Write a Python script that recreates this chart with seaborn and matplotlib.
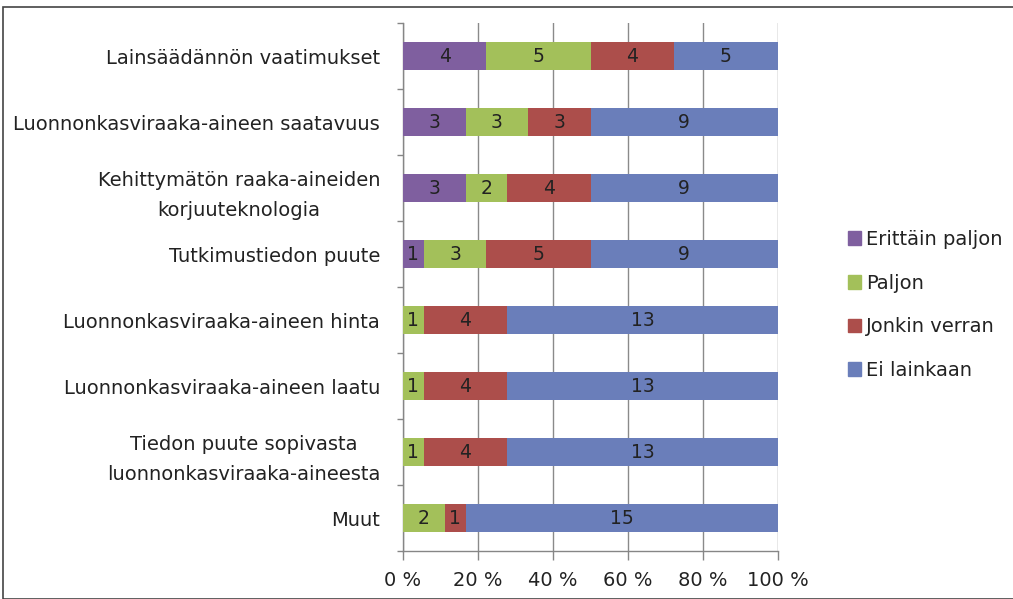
import matplotlib.pyplot as plt
import matplotlib.patches as mpatches
import seaborn as sns
import pandas as pd
import numpy as np

# data (counts of answers)
categories = [
    'Lainsäädännön vaatimukset',
    'Luonnonkasviraaka-aineen saatavuus',
    'Kehittymätön raaka-aineiden\nkorjuuteknologia',
    'Tutkimustiedon puute',
    'Luonnonkasviraaka-aineen hinta',
    'Luonnonkasviraaka-aineen laatu',
    'Tiedon puute sopivasta\nluonnonkasviraaka-aineesta',
    'Muut',
]
series_names = ['Erittäin paljon', 'Paljon', 'Jonkin verran', 'Ei lainkaan']
erittain_paljon = [4, 3, 3, 1, 0, 0, 0, 0]
paljon = [5, 3, 2, 3, 1, 1, 1, 2]
jonkin_verran = [4, 3, 4, 5, 4, 4, 4, 1]
ei_lainkaan = [5, 9, 9, 9, 13, 13, 13, 15]
x_ticks = [0, 20, 40, 60, 80, 100]

colors = ['#7F5F9F', '#A3C05A', '#AC4E4B', '#6A7EBA']

counts = np.array([erittain_paljon, paljon, jonkin_verran, ei_lainkaan], dtype=float)
pct = counts / counts.sum(axis=0) * 100
cum = np.cumsum(pct, axis=0)

df = pd.DataFrame({'Kategoria': categories})
for i, name in enumerate(series_names):
    df[name] = cum[i]

fig = plt.figure(figsize=(10.13, 5.99), dpi=100)
ax = fig.add_axes([403 / 1013, 1 - 551 / 599, 375 / 1013, 528 / 599])
sns.set_style('white')
plt.rcParams['font.family'] = ['DejaVu Sans']

# draw cumulative bars, widest first so each earlier series sits on top
for i in range(len(series_names) - 1, -1, -1):
    sns.barplot(data=df, x=series_names[i], y='Kategoria', orient='h',
                color=colors[i], width=0.42, saturation=1, ax=ax,
                linewidth=0, zorder=3)

# value labels in the middle of each segment
starts = cum - pct
for i in range(len(series_names)):
    for j in range(len(categories)):
        v = counts[i, j]
        if v > 0:
            ax.text(starts[i, j] + pct[i, j] / 2, j, f'{int(v)}',
                    ha='center', va='center', fontsize=13.5, color='#222222',
                    zorder=5)

ax.set_xlim(0, 100)
ax.set_ylim(len(categories) - 0.5, -0.5)
ax.set_xlabel('')
ax.set_ylabel('')
ax.set_xticks(x_ticks)
ax.set_xticklabels([f'{t} %' for t in x_ticks], fontsize=14, color='#222222')
ax.tick_params(axis='x', length=6.5, width=1, color='#868686', pad=8)
ax.set_yticks(range(len(categories)))
ax.set_yticklabels(categories, fontsize=14, color='#222222',
                   multialignment='center', linespacing=1.7)
ax.tick_params(axis='y', length=0, pad=16.5)
ax.set_yticks(np.arange(-0.5, len(categories), 1), minor=True)
ax.tick_params(axis='y', which='minor', length=4.5, width=1, color='#868686')

ax.grid(axis='x', color='#8A8A8A', linewidth=1, zorder=0)
ax.set_axisbelow(True)
for s in ['top', 'right']:
    ax.spines[s].set_visible(False)
for s in ['left', 'bottom']:
    ax.spines[s].set_color('#868686')
    ax.spines[s].set_linewidth(1)

# legend in original series order
handles = [mpatches.Patch(color=c) for c in colors]
fig.legend(handles, series_names, loc='center left',
           bbox_to_anchor=(830 / 1013, 1 - 305 / 599), frameon=False,
           fontsize=14, labelspacing=1.27, handlelength=0.7, handleheight=0.7,
           handletextpad=0.25, labelcolor='#222222')

# chart border
fig.patches.append(mpatches.Rectangle((3 / 1013, 0), 1.0, 1 - 7 / 599,
                                      transform=fig.transFigure, fill=False,
                                      edgecolor='#444444', linewidth=1.2))

fig.savefig('out.png', dpi=100)
